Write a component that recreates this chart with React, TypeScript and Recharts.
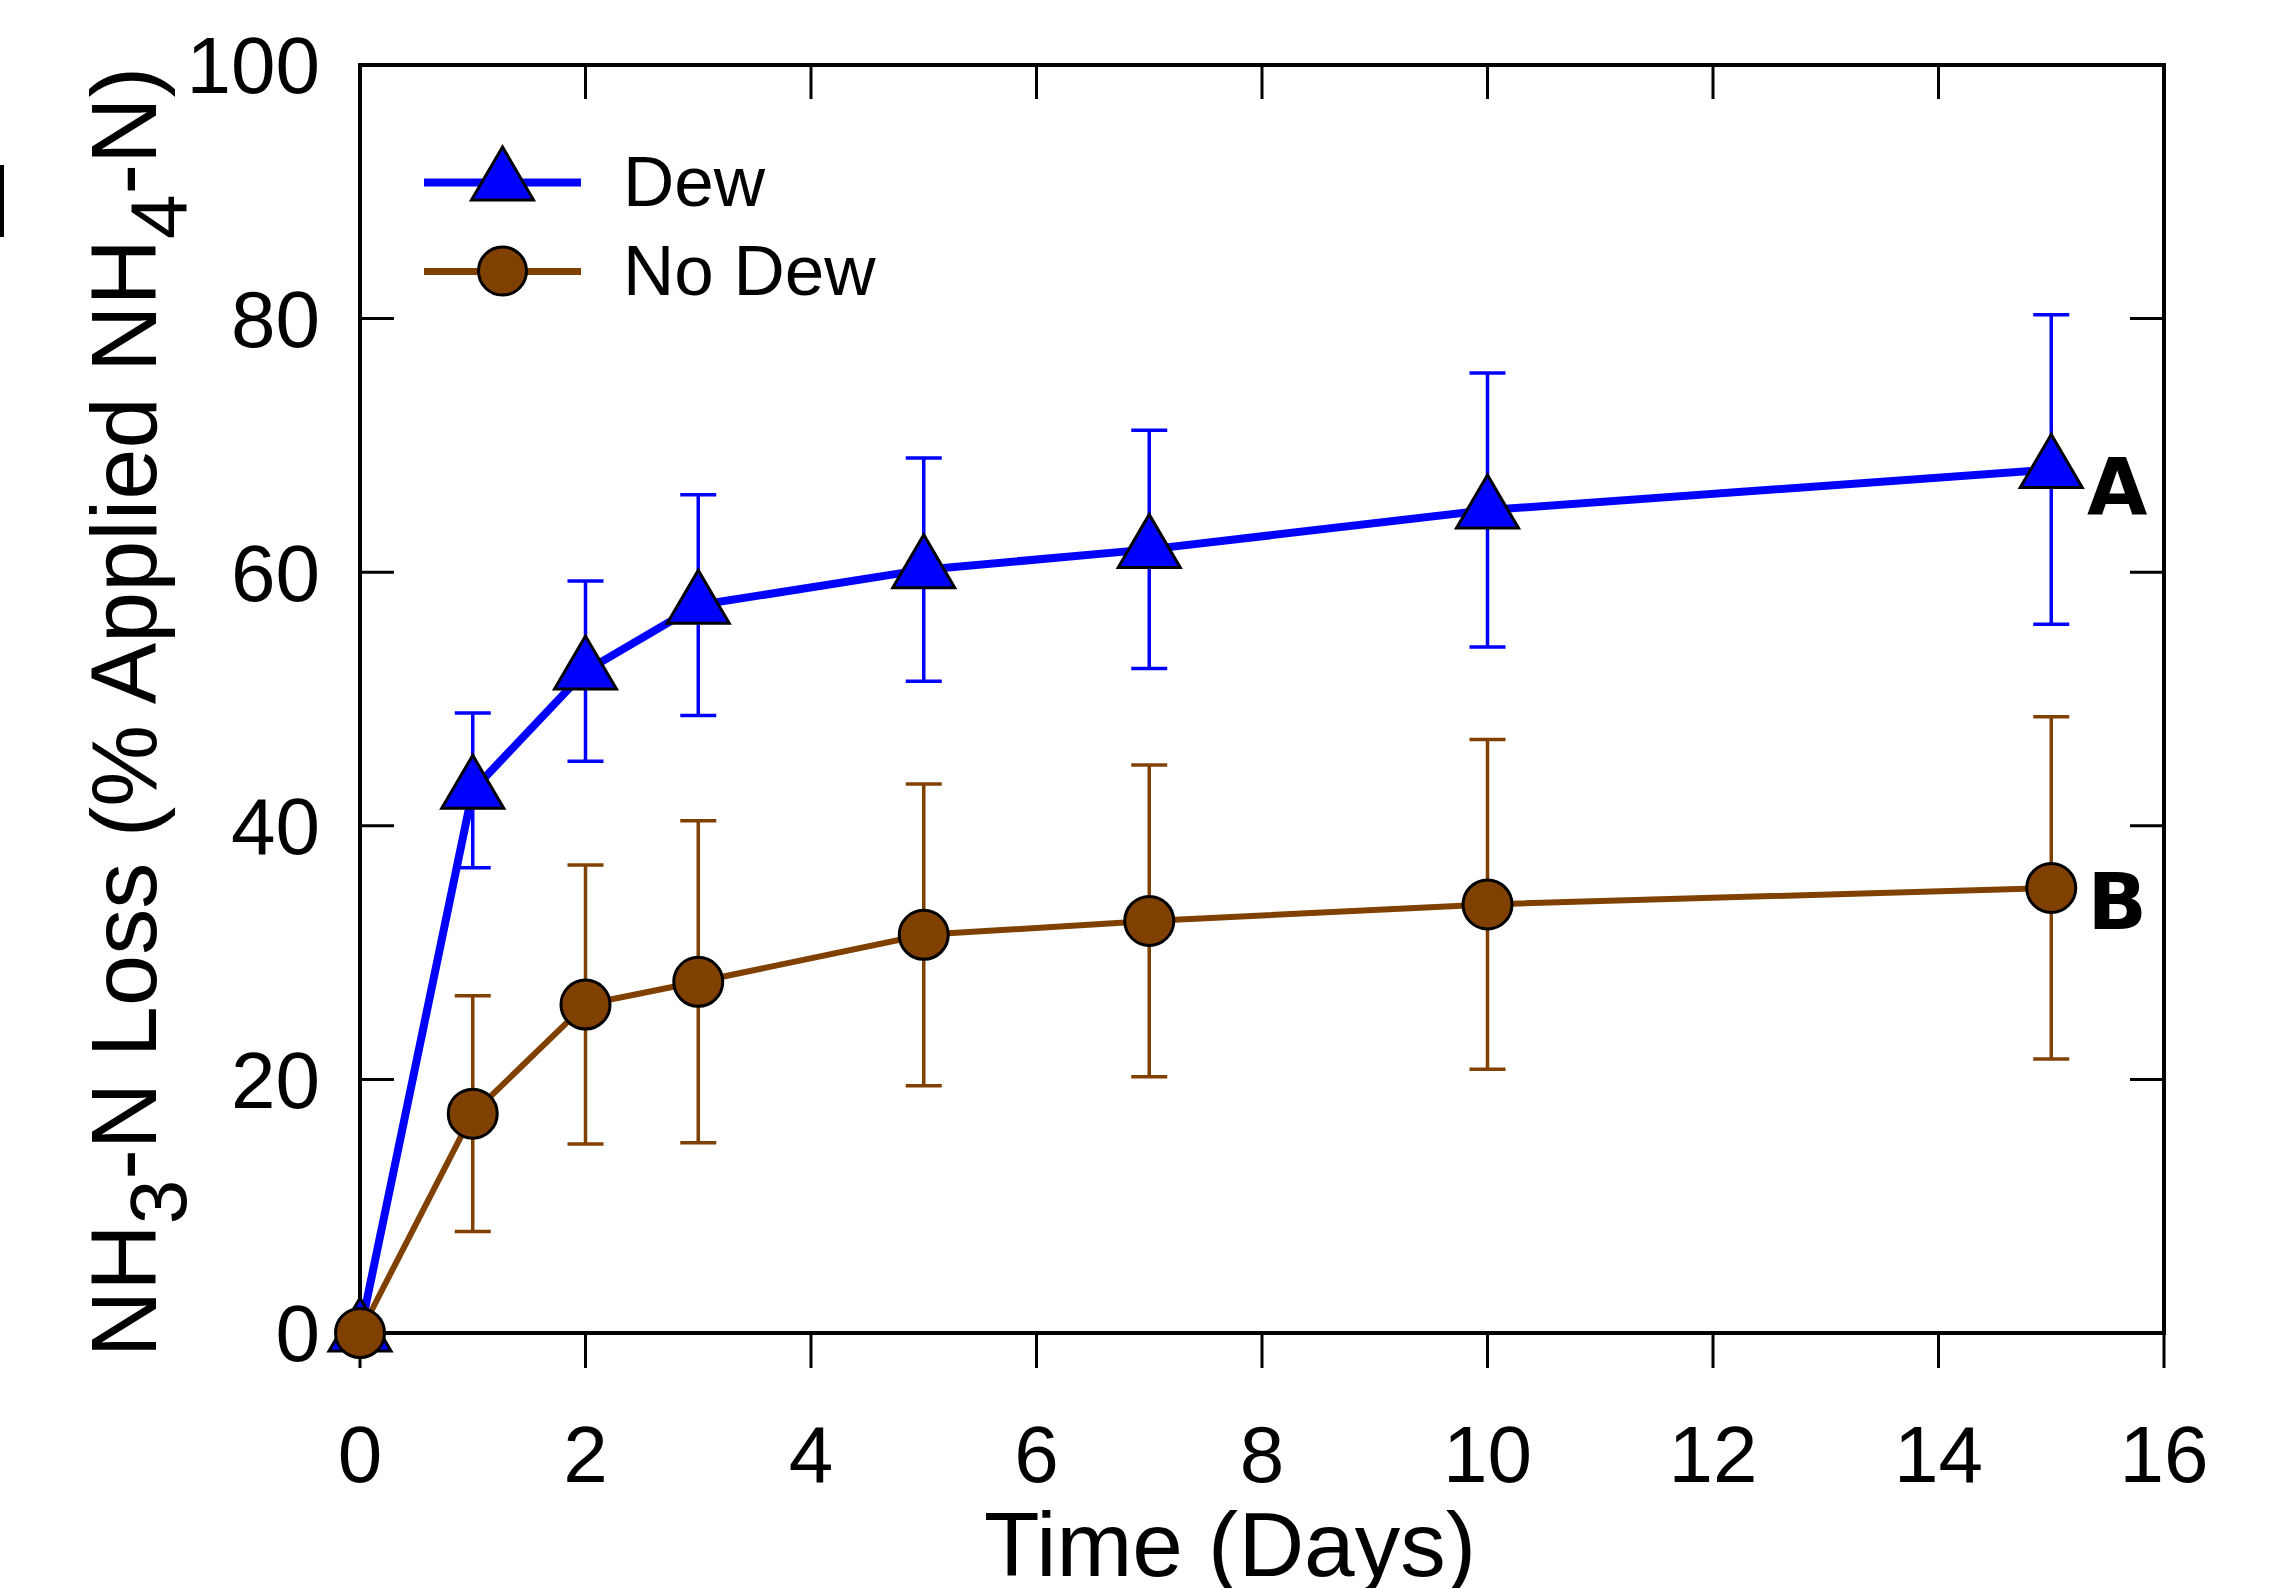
import { ErrorBar, Legend, Line, LineChart, ReferenceLine, XAxis, YAxis } from 'recharts';

const days = [0, 1, 2, 3, 5, 7, 10, 15];
const dewLoss = [0, 42.8, 52.2, 57.4, 60.2, 61.8, 64.9, 68.1];
const dewError = [0, 6.1, 7.1, 8.7, 8.8, 9.4, 10.8, 12.2];
const noDewLoss = [0, 17.3, 25.9, 27.7, 31.4, 32.5, 33.8, 35.1];
const noDewError = [0, 9.3, 11.0, 12.7, 11.9, 12.3, 13.0, 13.5];
const xTicks = [0, 2, 4, 6, 8, 10, 12, 14, 16];
const yTicks = [0, 20, 40, 60, 80, 100];
const xDomain = [0, 16];
const yDomain = [0, 100];

const rows = days.map((day, i) => ({
  day,
  dew: dewLoss[i],
  dewErr: dewError[i],
  noDew: noDewLoss[i],
  noDewErr: noDewError[i],
}));

const palette = {
  dew: '#0000ff',
  noDew: '#804000',
  ink: '#000000',
};

const font = '"Liberation Sans", Arial, sans-serif';
const tickFont = { fontSize: 80, fill: palette.ink, fontFamily: font };
const TICK_IN = 34;
const TICK_OUT = 35;

const Triangle = ({ cx, cy }: { cx?: number; cy?: number }) => {
  if (cx == null || cy == null) return <g />;
  return (
    <polygon
      points={`${cx},${cy - 35} ${cx - 31},${cy + 18} ${cx + 31},${cy + 18}`}
      fill={palette.dew}
      stroke={palette.ink}
      strokeWidth={3}
    />
  );
};

// x ticks: inward on the top edge, outward below the bottom edge
const xTickMarks = (p: any) => {
  const top = Math.min(p.y1, p.y2);
  const bottom = Math.max(p.y1, p.y2);
  return (
    <g stroke={palette.ink} strokeWidth={3}>
      <line x1={p.x1} y1={top} x2={p.x1} y2={top + TICK_IN} />
      <line x1={p.x1} y1={bottom} x2={p.x1} y2={bottom + TICK_OUT} />
    </g>
  );
};

// y ticks: inward on both the left and right edges
const yTickMarks = (p: any) => {
  const left = Math.min(p.x1, p.x2);
  const right = Math.max(p.x1, p.x2);
  return (
    <g stroke={palette.ink} strokeWidth={3}>
      <line x1={left} y1={p.y1} x2={left + TICK_IN} y2={p.y1} />
      <line x1={right - TICK_IN} y1={p.y1} x2={right} y2={p.y1} />
    </g>
  );
};

const endLabel = (letter: string, dy: number) => (props: any) => {
  const { x, y, index } = props;
  if (index !== days.length - 1) return null;
  return (
    <text
      key={`end-${letter}`}
      x={x + 66}
      y={y + dy}
      textAnchor="middle"
      fontSize={78}
      fontWeight="bold"
      fontFamily='"DejaVu Sans", sans-serif'
      fill={palette.ink}
    >
      {letter}
    </text>
  );
};

const renderLegend = () => (
  <svg width={620} height={200} style={{ display: 'block' }}>
    <line x1={24} y1={62.5} x2={181} y2={62.5} stroke={palette.dew} strokeWidth={8} />
    <polygon
      points="102.5,27 71.5,80 133.5,80"
      fill={palette.dew}
      stroke={palette.ink}
      strokeWidth={3}
    />
    <text x={223} y={86} fontSize={71} fontFamily={font} fill={palette.ink}>
      Dew
    </text>
    <line x1={24} y1={151.5} x2={181} y2={151.5} stroke={palette.noDew} strokeWidth={7} />
    <circle cx={102.5} cy={151} r={24} fill={palette.noDew} stroke={palette.ink} strokeWidth={3} />
    <text x={223} y={175} fontSize={71} fontFamily={font} fill={palette.ink}>
      No Dew
    </text>
  </svg>
);

const XTitle = () => (
  <text x={1230} y={1576} textAnchor="middle" fontSize={91} fontFamily={font} fill={palette.ink}>
    Time (Days)
  </text>
);

const YTitle = () => (
  <text
    x={156}
    y={712}
    transform="rotate(-90 156 712)"
    textAnchor="middle"
    fontSize={92}
    fontFamily={font}
    fill={palette.ink}
  >
    NH
    <tspan dy={30} fontSize={80}>3</tspan>
    <tspan dy={-30}>-N Loss (% Applied NH</tspan>
    <tspan dy={30} fontSize={80}>4</tspan>
    <tspan dy={-30}>-N)</tspan>
  </text>
);

export default function App() {
  return (
    <div style={{ position: 'absolute', left: 0, top: 0, width: 2282, height: 1588, background: '#fff' }}>
      <div
        style={{ position: 'absolute', left: 0, top: 165, width: 4, height: 72, background: palette.ink }}
      />
      <LineChart
        width={2282}
        height={1588}
        data={rows}
        margin={{ top: 65, right: 118, bottom: 105, left: 160 }}
      >
        <XAxis
          dataKey="day"
          type="number"
          domain={xDomain}
          ticks={xTicks}
          height={150}
          tick={tickFont}
          tickSize={TICK_OUT}
          tickMargin={57}
          axisLine={false}
          tickLine={false}
          label={{ content: XTitle }}
        />
        <YAxis
          type="number"
          domain={yDomain}
          ticks={yTicks}
          width={200}
          tick={tickFont}
          tickSize={0}
          tickMargin={40}
          tickLine={false}
          axisLine={false}
          label={{ content: YTitle }}
        />
        <Legend
          layout="vertical"
          align="center"
          verticalAlign="middle"
          content={renderLegend}
          wrapperStyle={{ position: 'absolute', left: 400, top: 120, width: 620, height: 200 }}
        />

        {xTicks.map((t) => (
          <ReferenceLine key={`xt-${t}`} x={t} shape={xTickMarks} />
        ))}
        {yTicks.map((t) => (
          <ReferenceLine key={`yt-${t}`} y={t} shape={yTickMarks} />
        ))}
        <ReferenceLine x={xDomain[0]} stroke={palette.ink} strokeWidth={4} strokeLinecap="square" />
        <ReferenceLine x={xDomain[1]} stroke={palette.ink} strokeWidth={4} strokeLinecap="square" />
        <ReferenceLine y={yDomain[0]} stroke={palette.ink} strokeWidth={4} strokeLinecap="square" />
        <ReferenceLine y={yDomain[1]} stroke={palette.ink} strokeWidth={4} strokeLinecap="square" />

        <Line
          dataKey="dew"
          name="Dew"
          stroke={palette.dew}
          strokeWidth={8}
          dot={(p: any) => <Triangle key={`tri-${p.index}`} cx={p.cx} cy={p.cy} />}
          activeDot={false}
          label={endLabel('A', 45)}
          isAnimationActive={false}
        >
          <ErrorBar dataKey="dewErr" direction="y" width={18} stroke={palette.dew} strokeWidth={3.5} />
        </Line>
        <Line
          dataKey="noDew"
          name="No Dew"
          stroke={palette.noDew}
          strokeWidth={6}
          dot={{ r: 24.5, fill: palette.noDew, stroke: palette.ink, strokeWidth: 3 }}
          activeDot={false}
          label={endLabel('B', 41)}
          isAnimationActive={false}
        >
          <ErrorBar dataKey="noDewErr" direction="y" width={18} stroke={palette.noDew} strokeWidth={3.5} />
        </Line>
      </LineChart>
    </div>
  );
}
